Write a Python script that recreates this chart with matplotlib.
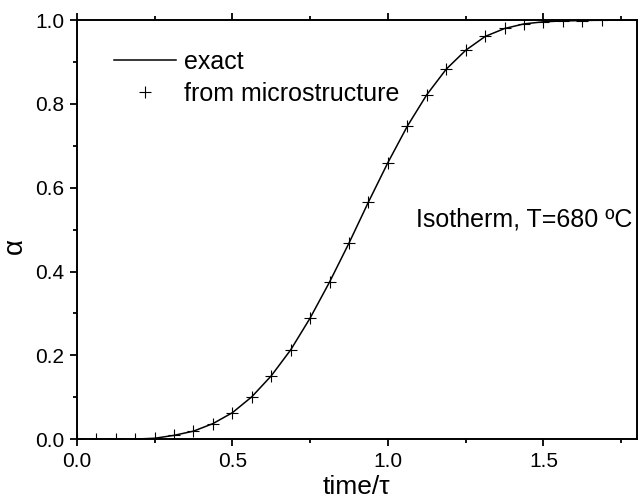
import numpy as np
import matplotlib.pyplot as plt
from matplotlib.ticker import MultipleLocator

plt.rcParams['font.family'] = ['Liberation Sans', 'DejaVu Sans']

# точки "from microstructure"
time_micro = [0.0, 0.0625, 0.125, 0.1875, 0.25, 0.3125, 0.375, 0.4375, 0.5, 0.5625,
              0.625, 0.6875, 0.75, 0.8125, 0.875, 0.9375, 1.0, 1.0625, 1.125, 1.1875,
              1.25, 1.3125, 1.375, 1.4375, 1.5, 1.5625, 1.625, 1.6875]
alpha_micro = [0.0, 0.0, 0.0, 0.0, 0.002, 0.009, 0.019, 0.037, 0.063, 0.101,
               0.151, 0.213, 0.289, 0.375, 0.468, 0.566, 0.660, 0.747, 0.822, 0.883,
               0.928, 0.961, 0.980, 0.991, 0.996, 0.998, 0.999, 1.0]

# точная кривая
time_exact = [0.0, 0.15, 0.2, 0.25, 0.3125, 0.375, 0.4375, 0.5, 0.5625, 0.625,
              0.6875, 0.75, 0.8125, 0.875, 0.9375, 1.0, 1.0625, 1.125, 1.1875, 1.25,
              1.3125, 1.375, 1.4375, 1.5, 1.5625, 1.625, 1.7, 1.8]
alpha_exact = [0.0, 0.0, 0.0005, 0.002, 0.009, 0.019, 0.037, 0.063, 0.101, 0.151,
               0.213, 0.289, 0.375, 0.468, 0.566, 0.660, 0.747, 0.822, 0.883, 0.928,
               0.961, 0.980, 0.991, 0.996, 0.998, 0.999, 1.0, 1.0]

fig = plt.figure(figsize=(6.4, 5.03), dpi=100)
ax = fig.add_axes([0.120, 0.127, 0.875, 0.833])

ax.plot(time_exact, alpha_exact, color='black', linewidth=1.1, label='exact')
ax.plot(time_micro, alpha_micro, linestyle='none', marker='+', markersize=8,
        markeredgewidth=0.8, color='black', label='from microstructure')

ax.set_xlim(0, 1.8)
ax.set_ylim(0, 1.0)
ax.xaxis.set_major_locator(MultipleLocator(0.5))
ax.xaxis.set_minor_locator(MultipleLocator(0.25))
ax.yaxis.set_major_locator(MultipleLocator(0.2))
ax.yaxis.set_minor_locator(MultipleLocator(0.1))
ax.tick_params(which='both', direction='out', top=True, right=False, width=1.3,
               labelsize=15, pad=4)
ax.tick_params(which='major', length=5)
ax.tick_params(which='minor', length=3)
for s in ax.spines.values():
    s.set_linewidth(1.4)

ax.set_xlabel('time/τ', fontsize=19, labelpad=3)
ax.set_ylabel('α', fontsize=20)
ax.yaxis.set_label_coords(-0.088, 0.46)

ax.text(0.605, 0.523, 'Isotherm, T=680 ºC', transform=ax.transAxes, fontsize=18,
        va='center', ha='left')

ax.legend(loc='upper left', bbox_to_anchor=(0.035, 0.97), frameon=False, fontsize=18,
          handlelength=2.5, handletextpad=0.3, labelspacing=0.3, borderpad=0.2)

fig.savefig('out.png', dpi=100)
